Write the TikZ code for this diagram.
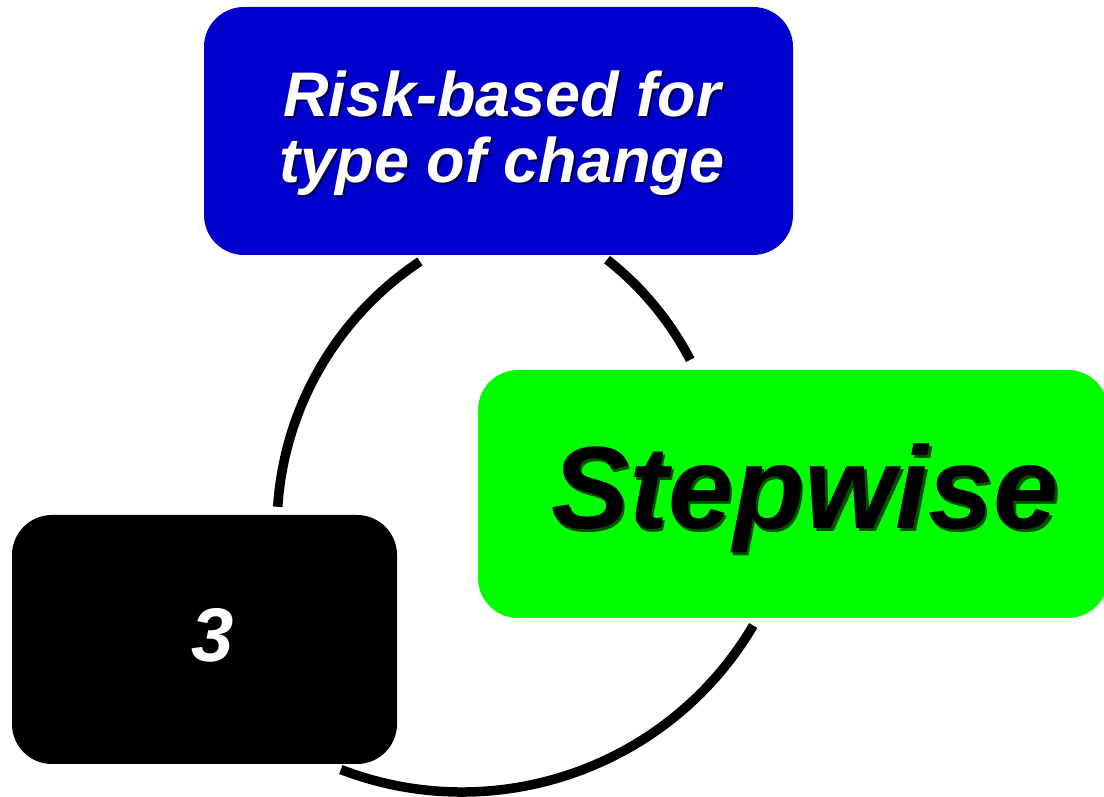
\documentclass[tikz,border=0pt]{standalone}
\usepackage{fontspec}
\setmainfont{Liberation Sans}
\usetikzlibrary{calc}
\definecolor{boxblue}{RGB}{0,0,204}
\definecolor{boxgreen}{RGB}{0,255,0}
\definecolor{blueshade}{RGB}{0,0,80}
\definecolor{greenshade}{RGB}{0,80,0}
% text with a small dark drop shadow: {shadow colour}{text}{offset}
\newcommand{\dropsh}[3]{\makebox[0pt][l]{\kern#3\raisebox{-#3}{\textcolor{#1}{#2}}}#2}
\begin{document}
\begin{tikzpicture}[x=1pt,y=1pt,
  cyclebox/.style={rectangle, rounded corners=40pt, minimum height=248pt,
    inner sep=0pt},
  cyclelabel/.style={inner sep=0pt, align=center},
  cyclearc/.style={line width=9.5pt, black, line cap=butt}]
\useasboundingbox (0,0) rectangle (1104,797);

% the three stages
\node[cyclebox, fill=boxblue, minimum width=589pt] (risk) at (498.5,666) {};
\node[cyclebox, fill=boxgreen, minimum width=630pt] (step) at (793,303) {};
\node[cyclebox, fill=black, minimum width=385pt, minimum height=249pt] (three) at (204.5,157.5) {};

% their labels
\node[cyclelabel, text=white, font=\bfseries\itshape\fontsize{63}{66}\selectfont]
  (risktext) at ([shift={(3.5,-3)}]risk.center)
  {\dropsh{blueshade}{Risk-based for}{2pt}\\\dropsh{blueshade}{type of change}{2pt}};
\node[cyclelabel, text=black, font=\bfseries\itshape\fontsize{117}{122}\selectfont]
  (steptext) at ([shift={(12,-6)}]step.center)
  {\dropsh{greenshade}{Stepwise}{2.5pt}};
\node[cyclelabel, text=white, font=\bfseries\itshape\fontsize{76}{80}\selectfont]
  (threetext) at ([shift={(8.5,4.5)}]three.center)
  {3};

% centres of the connecting arcs
\coordinate (cl) at (597,269);
\coordinate (cr) at (417,295);
\coordinate (cb) at (462,343);
% arc start points
\coordinate (al) at ($(cl)+(123.6:320)$);
\coordinate (ar) at ($(cr)+(51.9:308)$);
\coordinate (ab) at ($(cb)+(-30.5:338)$);

% risk -> 3
\draw[cyclearc] (al) arc[start angle=123.6, end angle=176.2, radius=320pt];
% risk -> stepwise
\draw[cyclearc] (ar) arc[start angle=51.9, end angle=27.5, radius=308pt];
% stepwise -> 3
\draw[cyclearc] (ab) arc[start angle=-30.5, end angle=-111, radius=338pt];
\end{tikzpicture}
\end{document}
